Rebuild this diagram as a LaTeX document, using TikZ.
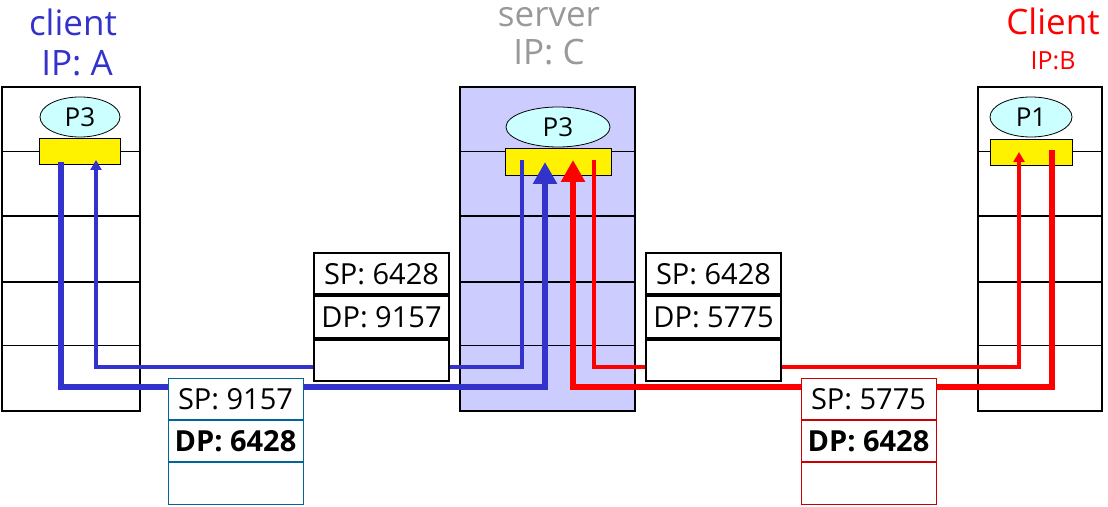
\documentclass[tikz,border=0pt]{standalone}
\usepackage{fontspec}
\setmainfont{Open Sans}
\usepackage{tikz}
\usetikzlibrary{ arrows.meta, calc, positioning, shapes.geometric }
\definecolor{cliblue}{RGB}{51,51,204}
\definecolor{srvgray}{RGB}{153,153,153}
\definecolor{srvfill}{RGB}{204,204,255}
\definecolor{procfill}{RGB}{204,255,255}
\definecolor{pktteal}{RGB}{0,102,153}
\definecolor{pktred}{RGB}{204,0,0}
\tikzset{
x=0.5pt, y=-0.5pt, % one unit per pixel, y runs downwards
host/.style={draw, line width=0.7pt}, % the layer stacks
title/.style={anchor=base, inner sep=0pt, font=\fontsize{17.5}{18}\selectfont},
proc/.style={ellipse, draw, fill=procfill, minimum width=40pt, minimum height=20pt, inner sep=0pt, font=\fontsize{13}{13}\selectfont},
sock/.style={draw, fill=yellow, inner sep=0pt, minimum height=13pt}, % socket
pkt/.style={draw, fill=white, minimum width=67.5pt, minimum height=20.75pt, inner sep=0pt, font=\fontsize{14.5}{15}\selectfont},
fatline/.style={line width=3.4pt, -{Triangle[width=11.5pt,length=11pt]}},
slimline/.style={line width=1.7pt, -{Triangle[width=5.5pt,length=5pt]}},
}
\begin{document}
\begin{tikzpicture}
  \useasboundingbox (0,0) rectangle (1108,507);
  % hosts and their layers
  \draw[host] (2,87) rectangle (140,411);
  \draw[host, fill=srvfill] (460,87) rectangle (635,411);
  \draw[host] (978,87) rectangle (1102,411);
  \foreach \y/\w in {152/0.5pt, 216/1pt, 282/0.6pt, 346/0.5pt}
    \draw[line width=\w] (2,\y) -- (140,\y) (460,\y) -- (635,\y) (978,\y) -- (1102,\y);

  \node[title, text=cliblue] (nameA) at (73,36) {client};
  \node[title, text=cliblue] (ipA) at (77,76) {IP: A};
  \node[title, text=srvgray] (nameS) at (549,27) {server};
  \node[title, text=srvgray] (ipS) at (549,65) {IP: C};
  \node[title, text=red] (nameB) at (1053,35) {Client};
  \node[title, text=red, font=\fontsize{12.5}{13}\selectfont] (ipB) at (1053,70) {IP:B};

  \node[proc] (procA) at (80,117) {P3};
  \node[proc, minimum width=52pt] (procS) at (558,127) {P3};
  \node[proc, minimum width=41pt] (procB) at (1031,117) {P1};

  \node[sock, minimum width=40.5pt] (sockA) at (79.5,151) {};
  \node[sock, minimum width=53pt, minimum height=13.5pt] (sockS) at (558,161.5) {};
  \node[sock, minimum width=41pt] (sockB) at (1031,152) {};

  % lanes and ends of the connectors
  \coordinate (laneF) at (0,387);
  \coordinate (laneS) at (0,367);
  \coordinate (aTx) at ([xshift=-9.25pt,yshift=-5.5pt]sockA.center);
  \coordinate (aRx) at ([xshift=8.25pt,yshift=-4.5pt]sockA.center);
  \coordinate (sRxA) at ([xshift=-6.5pt,yshift=-0.25pt]sockS.center);
  \coordinate (sTxA) at ([xshift=-18pt,yshift=0.75pt]sockS.center);
  \coordinate (sRxB) at ([xshift=7.5pt,yshift=0.75pt]sockS.center);
  \coordinate (sTxB) at ([xshift=18pt,yshift=0.75pt]sockS.center);
  \coordinate (bTx) at ([xshift=10.5pt,yshift=1pt]sockB.center);
  \coordinate (bRx) at ([xshift=-6pt]sockB.center);

  \draw[fatline, cliblue] (aTx) -- (aTx |- laneF) -| (sRxA);
  \draw[slimline, cliblue] (sTxA) -- (sTxA |- laneS) -| (aRx);
  \draw[fatline, red] (bTx) -- (bTx |- laneF) -| (sRxB);
  \draw[slimline, red] (sTxB) -- (sTxB |- laneS) -| (bRx);

  % segments
  \node[pkt, line width=1pt] (p1sp) at (381.5,273.75) {SP: 6428};
  \node[pkt, line width=1pt, below=0pt of p1sp] (p1dp) {DP: 9157};
  \node[pkt, line width=1pt, below=0pt of p1dp] (p1data) {};

  \node[pkt, draw=pktteal] (p2sp) at (235.5,398.75) {SP: 9157};
  \node[pkt, draw=pktteal, below=0pt of p2sp] (p2dp) {\bfseries DP: 6428};
  \node[pkt, draw=pktteal, below=0pt of p2dp] (p2data) {};

  \node[pkt, line width=1pt] (p3sp) at (713.5,273.75) {SP: 6428};
  \node[pkt, line width=1pt, below=0pt of p3sp] (p3dp) {DP: 5775};
  \node[pkt, line width=1pt, below=0pt of p3dp] (p3data) {};

  \node[pkt, draw=pktred] (p4sp) at (868.5,398.75) {SP: 5775};
  \node[pkt, draw=pktred, below=0pt of p4sp] (p4dp) {\bfseries DP: 6428};
  \node[pkt, draw=pktred, below=0pt of p4dp] (p4data) {};
\end{tikzpicture}
\end{document}
